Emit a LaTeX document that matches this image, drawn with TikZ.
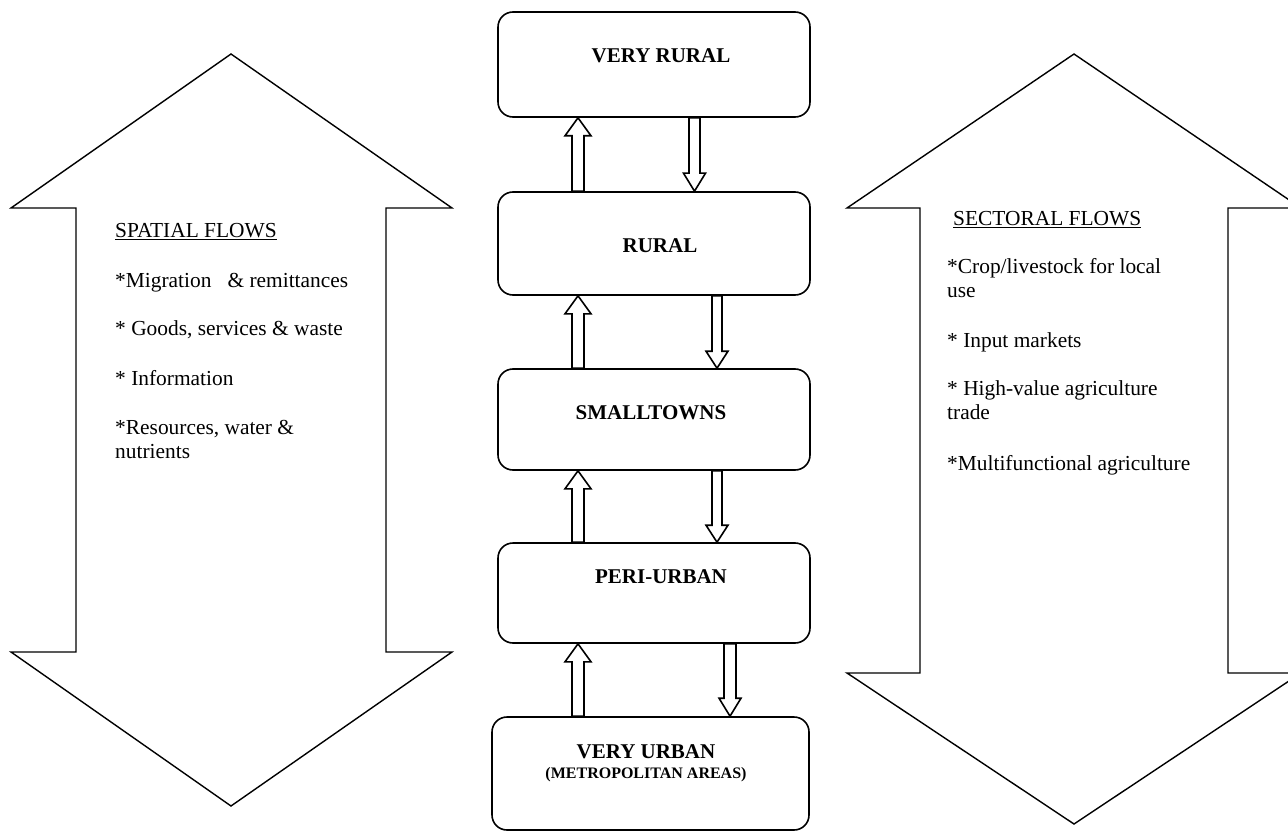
\documentclass[tikz,border=0pt]{standalone}
\usepackage{fontspec}
\setmainfont{Liberation Serif}
\usetikzlibrary{calc}
\tikzset{
 box/.style={draw, line width=1.6pt, rounded corners=15pt, inner sep=0pt},
 blk/.style={draw, line width=1.6pt, line join=miter},
 big/.style={draw, line width=1.4pt, line join=miter},
 lvl/.style={font=\fontsize{21}{25}\selectfont\bfseries, anchor=base, inner sep=0pt},
 sublvl/.style={font=\fontsize{16}{19}\selectfont\bfseries, anchor=base, inner sep=0pt},
 txt/.style={font=\fontsize{21.4}{25}\selectfont, anchor=base west, inner sep=0pt},
}
\newcommand\upblk[3]{% lower box, upper box, x centre
 \draw[blk] let \p1=(#1.north), \p2=(#2.south) in
 ({#3pt-6pt},\y1) -- ({#3pt-6pt},{\y2-18pt}) -- ({#3pt-13pt},{\y2-18pt}) -- ({#3pt},\y2)
 -- ({#3pt+13pt},{\y2-18pt}) -- ({#3pt+6pt},{\y2-18pt}) -- ({#3pt+6pt},\y1) -- cycle;}
\newcommand\dnblk[6]{% upper box, lower box, x centre, shaft half, head half, head length
 \draw[blk] let \p1=(#1.south), \p2=(#2.north) in
 ({#3pt-#4pt},\y1) -- ({#3pt-#4pt},{\y2+#6pt}) -- ({#3pt-#5pt},{\y2+#6pt}) -- ({#3pt},\y2)
 -- ({#3pt+#5pt},{\y2+#6pt}) -- ({#3pt+#4pt},{\y2+#6pt}) -- ({#3pt+#4pt},\y1) -- cycle;}
\begin{document}
\begin{tikzpicture}[x=1pt,y=-1pt]
\useasboundingbox (0,0) rectangle (1288,832);
\fill[white] (0,0) rectangle (1288,832);

% big double arrows
\draw[big] (231,54) -- (452,208) -- (386,208) -- (386,652) -- (452,652) -- (231,806)
 -- (11,652) -- (76,652) -- (76,208) -- (11,208) -- cycle;
\draw[big] (1074,54) -- (1301,208) -- (1228,208) -- (1228,673) -- (1301,673) -- (1074,824)
 -- (847,673) -- (920,673) -- (920,208) -- (847,208) -- cycle;

% central boxes
\node[box, minimum width=312pt, minimum height=105pt] (vr) at (654,64.5) {};
\node[box, minimum width=312pt, minimum height=103pt] (r) at (654,243.5) {};
\node[box, minimum width=312pt, minimum height=101pt] (st) at (654,419.5) {};
\node[box, minimum width=312pt, minimum height=100pt] (pu) at (654,593) {};
\node[box, minimum width=317pt, minimum height=113pt] (vu) at (650.5,773.5) {};

\node[lvl] (vrt) at (661,63) {VERY RURAL};
\node[lvl] (rt) at (660,252) {RURAL};
\node[lvl] (stt) at (651,419) {SMALLTOWNS};
\node[lvl] (put) at (661,583) {PERI-URBAN};
\node[lvl] (vut) at (646,758) {VERY URBAN};
\node[sublvl] (vus) at (646,778) {(METROPOLITAN AREAS)};

% block arrows
\upblk{r}{vr}{578}
\upblk{st}{r}{578}
\upblk{pu}{st}{578}
\upblk{vu}{pu}{578}
\dnblk{vr}{r}{694.5}{5.5}{11}{18}
\dnblk{r}{st}{717}{5}{11}{17}
\dnblk{st}{pu}{717}{5}{11}{17}
\dnblk{pu}{vu}{730}{6}{11}{18}

% left text
\node[txt] (sp) at (115,237) {\underline{SPATIAL FLOWS}};
\node[txt] (l1) at (115,287) {*Migration\ \ \ \& remittances};
\node[txt] (l2) at (115,335) {* Goods, services \& waste};
\node[txt] (l3) at (115,385) {* Information};
\node[txt] (l4) at (115,434) {*Resources, water \&};
\node[txt] (l4b) at (115,458) {nutrients};

% right text
\node[txt] (se) at (953,225) {\underline{SECTORAL FLOWS}};
\node[txt] (r1) at (947,273) {*Crop/livestock for local};
\node[txt] (r1b) at (947,297) {use};
\node[txt] (r2) at (947,347) {* Input markets};
\node[txt] (r3) at (947,395) {* High-value agriculture};
\node[txt] (r3b) at (947,419) {trade};
\node[txt] (r4) at (947,470) {*Multifunctional agriculture};
\end{tikzpicture}
\end{document}
